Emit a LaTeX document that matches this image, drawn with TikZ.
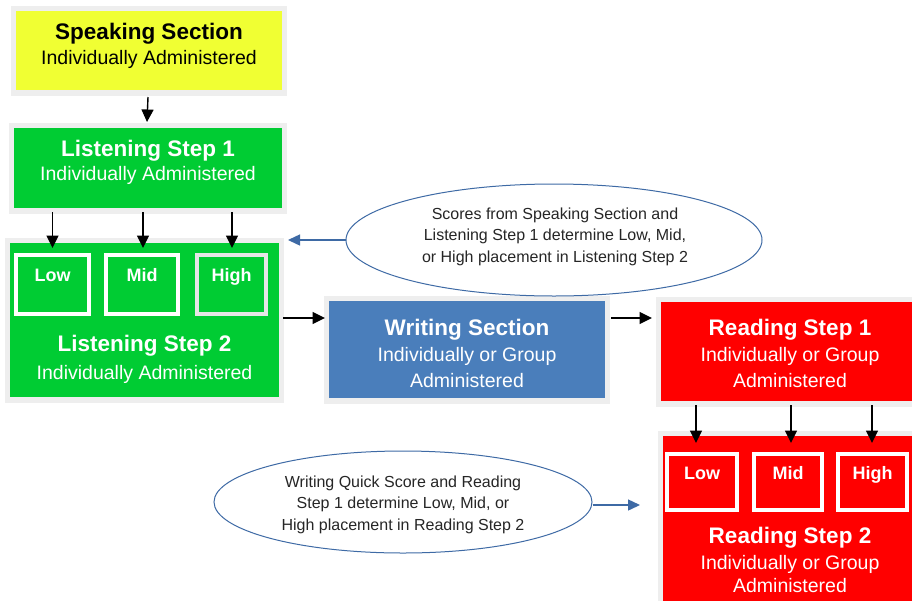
\documentclass[tikz,border=0pt]{standalone}
\usepackage{fontspec}
\setmainfont{Liberation Sans}
\usetikzlibrary{arrows.meta,backgrounds,calc,shapes.geometric}
\definecolor{yel}{RGB}{240,255,51}
\definecolor{grn}{RGB}{0,204,51}
\definecolor{blu}{RGB}{74,126,187}
\definecolor{rd}{RGB}{255,0,0}
\definecolor{frm}{RGB}{238,238,238}
\definecolor{hifrm}{RGB}{230,230,230}
\definecolor{eblue}{RGB}{62,106,165}
\begin{document}
\begin{tikzpicture}[x=1pt,y=-1pt,
  box/.style={draw=none,inner sep=0pt,outer sep=0pt},
  sbox/.style={draw=white,line width=4pt,inner sep=0pt,outer sep=0pt,minimum height=#1},
  ttl/.style={font=\fontsize{22.5}{26}\selectfont\bfseries,anchor=base,inner sep=0pt},
  sub/.style={font=\fontsize{19.5}{23}\selectfont,anchor=base,inner sep=0pt},
  lvl/.style={font=\fontsize{18}{20}\selectfont\bfseries,anchor=base,inner sep=0pt,text=white},
  etxt/.style={font=\fontsize{16}{21.5}\selectfont,align=center,inner sep=0pt,text=black!85},
  ell/.style={draw=eblue,line width=1pt,ellipse,inner sep=0pt,fill=white},
  arr/.style={-{Triangle[length=12.5pt,width=12pt]},line width=1.4pt,draw=black},
  barr/.style={-{Triangle[length=12pt,width=11pt]},line width=1.4pt,draw=eblue,color=eblue}]
\useasboundingbox (0,0) rectangle (912,600);

% main boxes
\node[box,fill=yel,minimum width=266pt,minimum height=79pt] (sp) at (149,50.5) {};
\node[box,fill=grn,minimum width=268pt,minimum height=80pt] (ls1) at (148,168) {};
\node[box,fill=grn,minimum width=269pt,minimum height=154pt] (ls2) at (144.5,320) {};
\node[box,fill=blu,minimum width=276pt,minimum height=97pt] (wr) at (467,349.5) {};
\node[box,fill=rd,minimum width=258pt,minimum height=99pt] (rs1) at (790,351.5) {};
\node[box,fill=rd,minimum width=254pt,minimum height=180pt] (rs2) at (790,526) {};

% frames
\begin{scope}[on background layer]
  \fill[white] (0,0) rectangle (912,600);
  \foreach \n in {sp,ls1,ls2,wr,rs1,rs2}{
    \fill[frm] ($(\n.north west)+(-5,-5)$) rectangle ($(\n.south east)+(5,6)$);
  }
\end{scope}

% level boxes
\node[sbox=59pt,minimum width=73pt] (l2low) at (52.5,284.5) {};
\node[sbox=59pt,minimum width=72pt] (l2mid) at (142,284.5) {};
\node[sbox=59pt,minimum width=69pt,draw=hifrm] (l2high) at (231.5,284.5) {};
\node[sbox=56pt,minimum width=70pt] (r2low) at (702,482) {};
\node[sbox=56pt,minimum width=68pt] (r2mid) at (788,482) {};
\node[sbox=56pt,minimum width=69pt] (r2high) at (872.5,482) {};

\node[lvl] (l2lowt) at (52.5,281.5) {Low};
\node[lvl] (l2midt) at (142,281.5) {Mid};
\node[lvl] (l2hight) at (231.5,281.5) {High};
\node[lvl] (r2lowt) at (702,479.5) {Low};
\node[lvl] (r2midt) at (788,479.5) {Mid};
\node[lvl] (r2hight) at (872.5,479.5) {High};

% texts
\node[ttl] (spt) at (149,39) {Speaking Section};
\node[sub] (sps) at (149,64) {Individually Administered};
\node[ttl,text=white] (ls1t) at (148,156) {Listening Step 1};
\node[sub,text=white] (ls1s) at (148,180) {Individually Administered};
\node[ttl,text=white] (ls2t) at (144.5,351) {Listening Step 2};
\node[sub,text=white] (ls2s) at (144.5,379) {Individually Administered};
\node[ttl,text=white] (wrt) at (467,335) {Writing Section};
\node[sub,text=white] (wrs1) at (467,361) {Individually or Group};
\node[sub,text=white] (wrs2) at (467,387) {Administered};
\node[ttl,text=white] (rs1t) at (790,335) {Reading Step 1};
\node[sub,text=white] (rs1s1) at (790,361) {Individually or Group};
\node[sub,text=white] (rs1s2) at (790,387) {Administered};
\node[ttl,text=white] (rs2t) at (790,543) {Reading Step 2};
\node[sub,text=white] (rs2s1) at (790,569) {Individually or Group};
\node[sub,text=white] (rs2s2) at (790,592) {Administered};

% ellipses
\node[ell,minimum width=416pt,minimum height=112pt] (e1) at (554,240) {};
\node[etxt] (e1t) at (555,236.5) {Scores from Speaking Section and\\Listening Step 1 determine Low, Mid,\\or High placement in Listening Step 2};
\node[ell,minimum width=378pt,minimum height=102pt] (e2) at (403,502) {};
\node[etxt] (e2t) at (403,504.4) {Writing Quick Score and Reading\\Step 1 determine Low, Mid, or\\High placement in Reading Step 2};

% arrows
\draw[arr] ($(sp.south)+(-1,7)$) -- ($(ls1.north)+(-1,-6)$);
\draw[arr] ($(ls1.south -| l2low)+(0,4)$) -- ($(l2low.north)+(0,-7)$);
\draw[arr] ($(ls1.south -| l2mid)+(1,4)$) -- ($(l2mid.north)+(1,-7)$);
\draw[arr] ($(ls1.south -| l2high)+(0.5,4)$) -- ($(l2high.north)+(0.5,-7)$);
\draw[arr] ($(ls2.east)+(4,-2)$) coordinate (a1) -- ($(a1 -| wr.west)+(-4,0)$);
\draw[arr] ($(wr.east)+(6,-31.5)$) coordinate (a2) -- ($(a2 -| rs1.west)+(-9,0)$);
\draw[arr] ($(rs1.south -| r2low)+(-6,4)$) -- ($(r2low.north)+(-6,-11)$);
\draw[arr] ($(rs1.south -| r2mid)+(3,4)$) -- ($(r2mid.north)+(3,-11)$);
\draw[arr] ($(rs1.south -| r2high)+(-0.5,4)$) -- ($(r2high.north)+(-0.5,-11)$);
\draw[barr] (e1.west) -- ($(e1.west -| ls2.east)+(9,0)$);
\draw[barr] ($(e2.east)+(0,3)$) coordinate (a3) -- ($(a3 -| rs2.west)+(-23,0)$);
\end{tikzpicture}
\end{document}
